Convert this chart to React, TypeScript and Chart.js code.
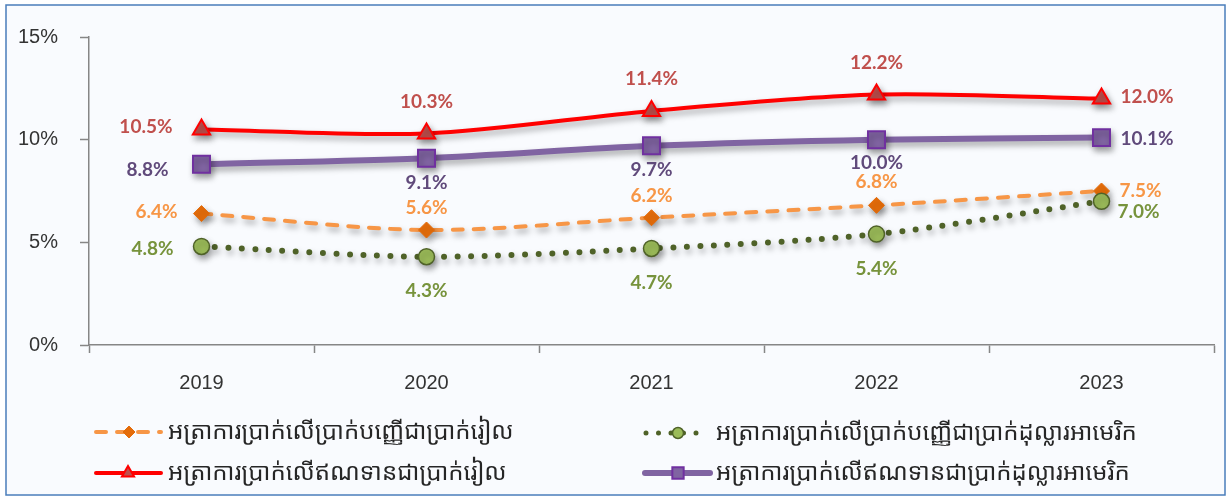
import React, { useEffect, useRef } from "react";
import { Chart, registerables } from "chart.js";

Chart.register(...registerables);

// ---------- data ----------
const years = ["2019", "2020", "2021", "2022", "2023"];
const depositKHR = [6.4, 5.6, 6.2, 6.8, 7.5];
const depositUSD = [4.8, 4.3, 4.7, 5.4, 7.0];
const loanKHR = [10.5, 10.3, 11.4, 12.2, 12.0];
const loanUSD = [8.8, 9.1, 9.7, 10.0, 10.1];
const seriesNames = [
  "អត្រាការប្រាក់លើប្រាក់បញ្ញើជាប្រាក់រៀល",
  "អត្រាការប្រាក់លើប្រាក់បញ្ញើជាប្រាក់ដុល្លារអាមេរិក",
  "អត្រាការប្រាក់លើឥណទានជាប្រាក់រៀល",
  "អត្រាការប្រាក់លើឥណទានជាប្រាក់ដុល្លារអាមេរិក",
];
const yMin = 0;
const yMax = 15;
const yStep = 5;

// ---------- styles ----------
const KHMER_FONT = '"Khmer OS", "Noto Sans Khmer", "Noto Serif Khmer", "Khmer OS System", Hanuman, "DejaVu Sans", sans-serif';
const LABEL_FONT = 'bold 19px Lato, "Liberation Sans", sans-serif';

type SeriesStyle = {
  line: string;
  width: number;
  dash: number[];
  cap: CanvasLineCap;
  point: string;
  radius: number;
  legendRadius: number;
  fill: string;
  stroke: string;
  pointBorder: number;
  label: string;
};

const STYLES: SeriesStyle[] = [
  { line: "#F79646", width: 4, dash: [10, 11], cap: "round", point: "rectRot", radius: 8, legendRadius: 6, fill: "#E46C0A", stroke: "#E46C0A", pointBorder: 1, label: "#F79646" },
  { line: "#4F6228", width: 6, dash: [0, 13.5], cap: "round", point: "circle", radius: 8, legendRadius: 5.5, fill: "#9BBB59", stroke: "#4F6228", pointBorder: 1.5, label: "#77933C" },
  { line: "#FF0000", width: 4, dash: [], cap: "round", point: "triangle", radius: 10, legendRadius: 7, fill: "#C0504D", stroke: "#FF0000", pointBorder: 2, label: "#C0504D" },
  { line: "#8064A2", width: 6, dash: [], cap: "round", point: "rect", radius: 12, legendRadius: 8, fill: "#8064A2", stroke: "#7030A0", pointBorder: 2, label: "#604A7B" },
];

// label placement per series, per point: [side, dx, dy]
const LABEL_LAYOUT: [string, number, number][][] = [
  [["l", -24, -2], ["c", 0, -22], ["c", 0, -22], ["c", 0, -23], ["r", 18, 0]],
  [["l", -28, 2], ["c", 0, 34], ["c", 0, 34], ["c", 0, 35], ["r", 16, 11]],
  [["l", -29, -3], ["c", 0, -32], ["c", 0, -32], ["c", 0, -32], ["r", 19, -2]],
  [["l", -33, 6], ["c", 0, 25], ["c", 0, 24], ["c", 0, 23], ["r", 19, 1]],
];

// legend layout: [sampleStart, sampleEnd, markerX, textX, y]
const LEGEND_LAYOUT: [number, number, number, number, number][] = [
  [96, 161, 129, 168, 432],
  [646, 699, 678, 716, 433],
  [96, 161, 128, 168, 473],
  [645, 710, 678, 716, 473],
];

function drawMarker(ctx: CanvasRenderingContext2D, s: SeriesStyle, x: number, y: number, r: number) {
  ctx.save();
  ctx.beginPath();
  if (s.point === "circle") {
    ctx.arc(x, y, r, 0, Math.PI * 2);
  } else if (s.point === "rectRot") {
    ctx.moveTo(x, y - r);
    ctx.lineTo(x + r, y);
    ctx.lineTo(x, y + r);
    ctx.lineTo(x - r, y);
    ctx.closePath();
  } else if (s.point === "triangle") {
    const w = r * Math.sqrt(3) / 2;
    ctx.moveTo(x, y - r);
    ctx.lineTo(x + w, y + r / 2);
    ctx.lineTo(x - w, y + r / 2);
    ctx.closePath();
  } else {
    const a = r * Math.SQRT1_2;
    ctx.rect(x - a, y - a, 2 * a, 2 * a);
  }
  ctx.fillStyle = s.fill;
  ctx.fill();
  ctx.lineWidth = s.pointBorder;
  ctx.strokeStyle = s.stroke;
  ctx.setLineDash([]);
  ctx.stroke();
  ctx.restore();
}

export default function App() {
  const ref = useRef<HTMLCanvasElement>(null);

  useEffect(() => {
    const canvas = ref.current;
    if (!canvas) return;

    const backgroundPlugin = {
      id: "bgFrame",
      beforeDraw(chart: any) {
        const ctx = chart.ctx as CanvasRenderingContext2D;
        ctx.save();
        ctx.fillStyle = "#FFFFFF";
        ctx.fillRect(0, 0, chart.width, chart.height);
        ctx.fillStyle = "#F9FBFE";
        ctx.fillRect(6, 5, 1219, 490);
        ctx.strokeStyle = "#4A7EBB";
        ctx.lineWidth = 1.5;
        ctx.strokeRect(6, 5, 1219, 490);
        ctx.restore();
      },
    };

    const shadowPlugin = {
      id: "lineShadow",
      beforeDatasetDraw(chart: any) {
        const ctx = chart.ctx as CanvasRenderingContext2D;
        ctx.save();
        ctx.shadowColor = "rgba(0,0,0,0.35)";
        ctx.shadowBlur = 6;
        ctx.shadowOffsetX = 2;
        ctx.shadowOffsetY = 4;
      },
      afterDatasetDraw(chart: any) {
        chart.ctx.restore();
      },
    };

    const labelPlugin = {
      id: "valueLabels",
      afterDatasetsDraw(chart: any) {
        const ctx = chart.ctx as CanvasRenderingContext2D;
        ctx.save();
        ctx.font = LABEL_FONT;
        ctx.textBaseline = "middle";
        chart.data.datasets.forEach((ds: any, i: number) => {
          const meta = chart.getDatasetMeta(i);
          meta.data.forEach((pt: any, j: number) => {
            const [side, dx, dy] = LABEL_LAYOUT[i][j];
            ctx.textAlign = side === "l" ? "right" : side === "r" ? "left" : "center";
            ctx.fillStyle = STYLES[i].label;
            ctx.fillText((ds.data[j] as number).toFixed(1) + "%", pt.x + dx, pt.y + dy);
          });
        });
        ctx.restore();
      },
    };

    const legendPlugin = {
      id: "customLegend",
      afterDraw(chart: any) {
        const ctx = chart.ctx as CanvasRenderingContext2D;
        chart.data.datasets.forEach((ds: any, i: number) => {
          const s = STYLES[i];
          const [x0, x1, mx, tx, y] = LEGEND_LAYOUT[i];
          ctx.save();
          ctx.beginPath();
          ctx.moveTo(x0, y);
          ctx.lineTo(x1, y);
          ctx.strokeStyle = s.line;
          ctx.lineWidth = s.point === "circle" ? 5 : s.width;
          ctx.lineCap = s.cap;
          ctx.setLineDash(s.point === "circle" ? [0, 12.5] : s.dash);
          ctx.stroke();
          ctx.restore();
          drawMarker(ctx, s, mx, y, s.legendRadius);
          ctx.save();
          ctx.font = `24px ${KHMER_FONT}`;
          ctx.fillStyle = "#262626";
          ctx.textAlign = "left";
          ctx.textBaseline = "middle";
          ctx.fillText(ds.label, tx, y);
          ctx.restore();
        });
      },
    };

    const seriesData = [depositKHR, depositUSD, loanKHR, loanUSD];
    const orders = [3, 2, 1, 0];

    const chart = new Chart(canvas, {
      type: "line",
      data: {
        labels: years,
        datasets: seriesData.map((d, i) => ({
          label: seriesNames[i],
          data: d,
          order: orders[i],
          borderColor: STYLES[i].line,
          borderWidth: STYLES[i].width,
          borderDash: STYLES[i].dash,
          borderCapStyle: STYLES[i].cap,
          tension: 0.3,
          fill: false,
          pointStyle: STYLES[i].point as any,
          pointRadius: STYLES[i].radius,
          pointHoverRadius: STYLES[i].radius,
          pointBackgroundColor: STYLES[i].fill,
          pointBorderColor: STYLES[i].stroke,
          pointBorderWidth: STYLES[i].pointBorder,
          clip: false as any,
        })),
      },
      options: {
        responsive: false,
        animation: false,
        devicePixelRatio: 1,
        layout: { padding: { top: 37, right: 14, bottom: 0, left: 0 } },
        plugins: {
          legend: { display: false },
          tooltip: { enabled: false },
        },
        scales: {
          x: {
            offset: true,
            grid: {
              offset: true,
              drawOnChartArea: false,
              drawTicks: true,
              tickLength: 8,
              tickColor: "#868686",
              tickWidth: 1.5,
            },
            border: { color: "#868686", width: 1.5 },
            ticks: {
              padding: 18,
              color: "#333333",
              font: { family: '"Liberation Sans", Arial, sans-serif', size: 20 },
            },
            afterFit(scale: any) {
              scale.height = 152;
            },
          },
          y: {
            min: yMin,
            max: yMax,
            ticks: {
              stepSize: yStep,
              padding: 22,
              color: "#333333",
              font: { family: '"Liberation Sans", Arial, sans-serif', size: 20 },
              callback: (v: any) => `${v}%`,
            },
            grid: {
              drawOnChartArea: false,
              drawTicks: true,
              tickLength: 9,
              tickColor: "#868686",
              tickWidth: 1.5,
            },
            border: { color: "#868686", width: 1.5 },
            afterFit(scale: any) {
              scale.width = 89;
            },
          },
        },
      },
      plugins: [backgroundPlugin, shadowPlugin, labelPlugin, legendPlugin],
    });

    return () => chart.destroy();
  }, []);

  return (
    <div style={{ position: "absolute", left: 0, top: 0, width: 1228, height: 497 }}>
      <canvas ref={ref} width={1228} height={497} style={{ display: "block", width: 1228, height: 497 }} />
    </div>
  );
}
